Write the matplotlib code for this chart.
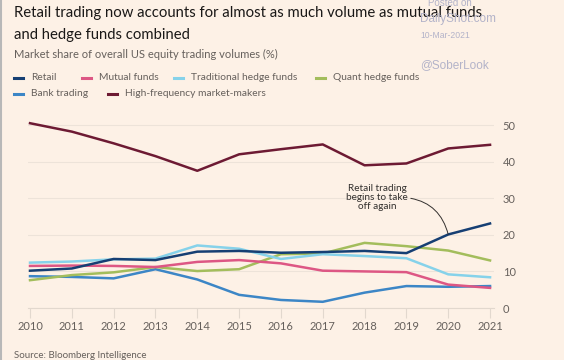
import numpy as np
import matplotlib
matplotlib.use('Agg')
import matplotlib.pyplot as plt
from matplotlib.lines import Line2D

years = list(range(2010, 2022))

retail = [10.2, 10.8, 13.4, 13.1, 15.4, 15.6, 15.1, 15.3, 15.6, 15.0, 20.1, 23.1]
mutual_funds = [11.5, 11.6, 11.5, 11.2, 12.6, 13.1, 12.2, 10.2, 10.0, 9.8, 6.4, 5.5]
trad_hedge = [12.4, 12.7, 13.3, 13.5, 17.1, 16.2, 13.4, 14.7, 14.2, 13.6, 9.2, 8.4]
quant_hedge = [7.6, 9.0, 9.75, 11.2, 10.1, 10.6, 14.7, 14.9, 17.8, 16.9, 15.7, 13.0]
bank_trading = [8.7, 8.5, 8.1, 10.6, 7.8, 3.6, 2.2, 1.7, 4.2, 6.0, 5.8, 6.0]
hft = [50.5, 48.2, 45.0, 41.5, 37.5, 42.0, 43.4, 44.7, 39.0, 39.5, 43.6, 44.6]

labels = ['Retail', 'Mutual funds', 'Traditional hedge funds', 'Quant hedge funds',
          'Bank trading', 'High-frequency market-makers']
y_ticks = [0, 10, 20, 30, 40, 50]

colors = ['#163f73', '#dd5784', '#86d2ea', '#a3bd5c', '#3c86c6', '#6d1a33']
series = [retail, mutual_funds, trad_hedge, quant_hedge, bank_trading, hft]

BG = '#fdf1e6'
GREY = '#66605c'

plt.rcParams['font.family'] = ['Lato', 'DejaVu Sans']

fig = plt.figure(figsize=(5.64, 3.6), dpi=100)
fig.patch.set_facecolor(BG)
ax = fig.add_axes([0.0495, 0.1444, 0.8268, 0.5286])
ax.set_facecolor(BG)

# draw back to front so retail sits on top
order = [5, 4, 3, 1, 2, 0]
for i in order:
    ax.plot(years, series[i], color=colors[i], lw=1.8, solid_joinstyle='round', zorder=3)

ax.set_xlim(2009.95, 2021.1)
ax.set_ylim(0, 52)
ax.set_xticks(years)
ax.set_xticklabels([str(y) for y in years], fontsize=8, color=GREY)
ax.set_yticks(y_ticks)
ax.yaxis.tick_right()
ax.set_yticklabels([str(v) for v in y_ticks], fontsize=8, color=GREY)
ax.tick_params(axis='y', length=0, pad=6)
ax.tick_params(axis='x', length=7, width=0.8, color='#e2d8ce', pad=2)
for s in ['top', 'right', 'left']:
    ax.spines[s].set_visible(False)
ax.spines['bottom'].set_color('#e2d8ce')
ax.spines['bottom'].set_linewidth(0.8)
ax.grid(axis='y', color='#ede3d9', lw=0.8, zorder=0)
ax.set_axisbelow(True)

# annotation
ax.annotate('Retail trading\nbegins to take\noff again', xy=(years[10], retail[10]),
            xytext=(2018.3, 30.2), fontsize=7.2, color='#33302e', ha='center', va='center',
            linespacing=1.05,
            arrowprops=dict(arrowstyle='-', color='#33302e', lw=0.7,
                            connectionstyle='arc3,rad=-0.35', shrinkA=0, shrinkB=0,
                            relpos=(0.95, 0.5)))

# titles
fig.text(14/564, 1 - 13/360, 'Retail trading now accounts for almost as much volume as mutual funds',
         fontsize=10.7, color='#1a1817', va='center', ha='left')
fig.text(14/564, 1 - 35/360, 'and hedge funds combined',
         fontsize=10.7, color='#1a1817', va='center', ha='left')
fig.text(14/564, 1 - 54/360, 'Market share of overall US equity trading volumes (%)',
         fontsize=8, color=GREY, va='center', ha='left')

# legend
leg_pos = [(14, 78), (82, 78), (174, 78), (316, 78), (14, 94), (108, 94)]
for (x, y), lab, c in zip(leg_pos, labels, colors):
    fig.add_artist(Line2D([x/564, (x + 9)/564], [1 - y/360, 1 - y/360], color=c, lw=2.2))
    fig.text((x + 17)/564, 1 - y/360, lab, fontsize=7.4, color=GREY, va='center', ha='left')

# watermark
wm = '#b3b3c9'
fig.text(428/564, 1 - 3/360, 'Posted on', fontsize=7, color=wm, va='center', family=['Liberation Sans'])
fig.text(420/564, 1 - 19/360, 'DailyShot.com', fontsize=8.5, color=wm, va='center', family=['Liberation Sans'])
fig.text(420/564, 1 - 36/360, '10-Mar-2021', fontsize=6.2, color=wm, va='center', family=['Liberation Sans'])
fig.text(420/564, 1 - 65/360, '@SoberLook', fontsize=8.5, color=wm, va='center', family=['Liberation Sans'])

fig.text(14/564, 1 - 355/360, 'Source: Bloomberg Intelligence', fontsize=7, color=GREY, va='center', ha='left')

fig.add_artist(Line2D([1/564, 1/564], [0, 1], color='#b8b8b8', lw=1.5))

fig.savefig('out.png', dpi=100, facecolor=BG)
